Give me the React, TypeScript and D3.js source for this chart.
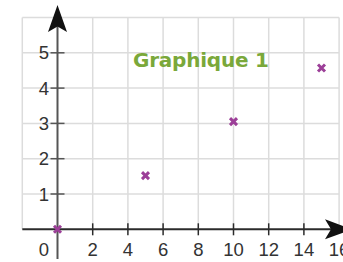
import React from 'react';
import * as d3 from 'd3';

const xTicks = [2, 4, 6, 8, 10, 12, 14, 16];
const yTicks = [1, 2, 3, 4, 5];
const gridX = [-2, 2, 4, 6, 8, 10, 12, 14, 16];
const gridY = [1, 2, 3, 4, 5, 6];
const pointsX = [0, 5, 10, 15];
const pointsY = [0, 1.52, 3.05, 4.57];
const title = 'Graphique 1';

const W = 343, H = 262;

export default function App() {
  const x = d3.scaleLinear().domain([0, 16]).range([57.5, 339.1]);
  const y = d3.scaleLinear().domain([0, 6]).range([229.3, 17.5]);
  const x0 = x(0), y0 = y(0);
  const left = x(-2), right = x(16), top = y(6);
  const axis = '#2b2b2b';
  const grid = '#dcdcdc';
  const mark = '#9c3f98';

  return (
    <div style={{ position: 'absolute', left: 0, top: 0 }}>
      <svg width={W} height={H} style={{ display: 'block', fontFamily: '"Liberation Sans", Arial, sans-serif' }}>
        <rect width={W} height={H} fill="#fff" />
        {/* grid */}
        {gridX.map(v => (
          <line key={'gx' + v} x1={x(v)} x2={x(v)} y1={top} y2={y0} stroke={grid} strokeWidth={1.5} />
        ))}
        {gridY.map(v => (
          <line key={'gy' + v} x1={left} x2={right} y1={y(v)} y2={y(v)} stroke={grid} strokeWidth={1.5} />
        ))}

        {/* axes */}
        <line x1={left} x2={332} y1={y0} y2={y0} stroke={axis} strokeWidth={2} />
        <line x1={x0} x2={x0} y1={259} y2={26} stroke="#555" strokeWidth={2} />
        <path d={`M${x0},5 L${x0 + 9.5},32 L${x0},26.5 L${x0 - 9.5},32 Z`} fill="#111" />
        <path d={`M352,${y0} L325,${y0 - 10} L331,${y0} L325,${y0 + 10} Z`} fill="#111" />

        {/* ticks */}
        {xTicks.filter(v => v < 16).map(v => (
          <line key={'xt' + v} x1={x(v)} x2={x(v)} y1={y0 - 6} y2={y0 + 6} stroke={axis} strokeWidth={1.5} />
        ))}
        {yTicks.map(v => (
          <line key={'yt' + v} x1={x0 - 7} x2={x0 + 7} y1={y(v)} y2={y(v)} stroke="#555" strokeWidth={1.5} />
        ))}

        {/* labels */}
        {xTicks.map(v => (
          <text key={'xl' + v} x={x(v)} y={256} textAnchor="middle" fontSize={18.5} fill="#333">{v}</text>
        ))}
        <text x={44} y={256} textAnchor="middle" fontSize={18.5} fill="#333">0</text>
        {yTicks.map(v => (
          <text key={'yl' + v} x={49} y={y(v) + 6.5} textAnchor="end" fontSize={18.5} fill="#333">{v}</text>
        ))}

        {/* title */}
        <text x={133} y={67} fontSize={20} fontWeight="bold" fill="#7aa83a" textLength={136}
          style={{ fontFamily: '"DejaVu Sans", Verdana, sans-serif' }}>{title}</text>

        {/* points */}
        {pointsX.map((v, i) => {
          const cx = x(v), cy = y(pointsY[i]), s = 3.5;
          return (
            <path key={'p' + i} d={`M${cx - s},${cy - s}L${cx + s},${cy + s}M${cx - s},${cy + s}L${cx + s},${cy - s}`}
              stroke={mark} strokeWidth={3} />
          );
        })}
      </svg>
    </div>
  );
}
